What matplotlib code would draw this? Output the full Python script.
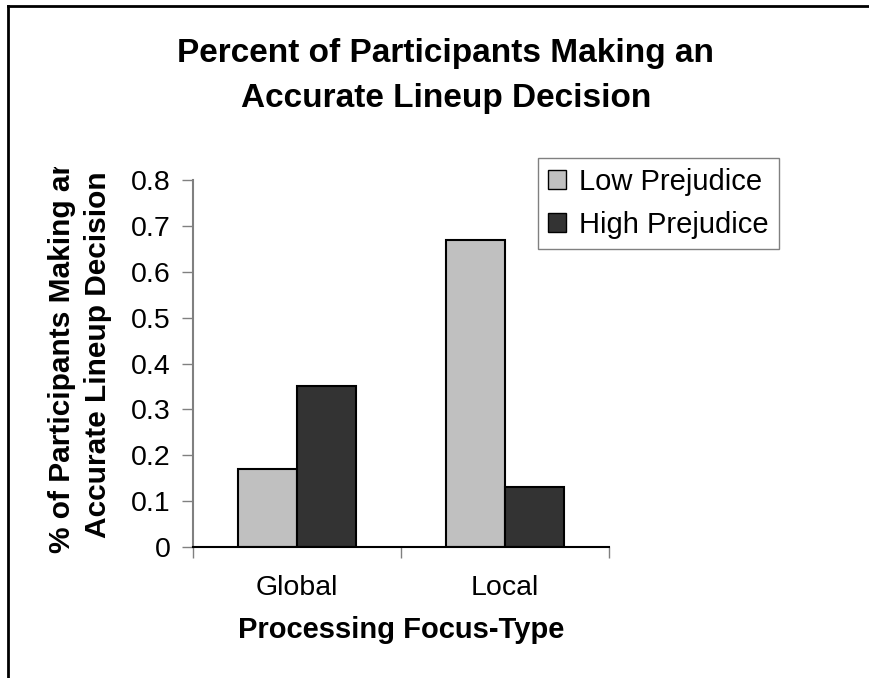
import numpy as np
import matplotlib.pyplot as plt
from matplotlib.lines import Line2D
from matplotlib.patches import Rectangle

plt.rcParams['font.family'] = ['Liberation Sans', 'DejaVu Sans']

categories = ['Global', 'Local']
low_prejudice = [0.17, 0.67]
high_prejudice = [0.35, 0.13]
series_names = ['Low Prejudice', 'High Prejudice']

fig = plt.figure(figsize=(8.69, 6.78), dpi=100)
ax = fig.add_axes([0.2221, 0.1932, 0.4787, 0.5413])

x = np.arange(len(categories)) + 0.5
w = 0.284
ax.bar(x - w/2, low_prejudice, w, color='#c0c0c0', edgecolor='black', linewidth=1.5, label=series_names[0])
ax.bar(x + w/2, high_prejudice, w, color='#333333', edgecolor='black', linewidth=1.5, label=series_names[1])

ax.set_xlim(0, 2)
ax.set_ylim(0, 0.8)
ax.set_yticks(np.arange(0, 0.81, 0.1))
ax.set_yticklabels(['0', '0.1', '0.2', '0.3', '0.4', '0.5', '0.6', '0.7', '0.8'])
ax.set_xticks([0, 1, 2])
ax.set_xticklabels([])
ax.set_xticks(x, minor=True)
ax.set_xticklabels(categories, minor=True)
ax.tick_params(axis='x', which='major', direction='out', length=8, width=1, color='#808080')
ax.tick_params(axis='x', which='minor', length=0, pad=20, labelsize=20.5)
ax.tick_params(axis='y', direction='out', length=8, width=1, color='#808080', labelsize=20.5, pad=8)

for s in ['top', 'right']:
    ax.spines[s].set_visible(False)
ax.spines['left'].set_color('#808080')
ax.spines['left'].set_linewidth(1.5)
ax.spines['bottom'].set_color('black')
ax.spines['bottom'].set_linewidth(1.5)

ax.set_xlabel('Processing Focus-Type', fontsize=21, fontweight='bold', labelpad=11)

fig.text(0.513, 0.888, 'Percent of Participants Making an\nAccurate Lineup Decision',
         ha='center', va='center', fontsize=24, fontweight='bold', linespacing=1.6)

ylab = fig.text(0.092, 0.477, '% of Participants Making an\nAccurate Lineup Decision',
                ha='center', va='center', rotation=90, fontsize=21.5, fontweight='bold',
                linespacing=1.35)
clip = Rectangle((0, 0), 1, 1 - 167/678, transform=fig.transFigure)
ylab.set_clip_path(clip)

leg = fig.legend(loc='upper left', bbox_to_anchor=(0.619, 0.767), fontsize=21,
                 frameon=True, fancybox=False, edgecolor='#808080', framealpha=1,
                 handlelength=0.62, handleheight=0.62, handletextpad=0.45,
                 borderpad=0.35, labelspacing=0.5, borderaxespad=0)
leg.get_frame().set_linewidth(1)
for h in leg.legend_handles:
    h.set_linewidth(1)

fig.add_artist(Line2D([8/869, 8/869], [0, 1 - 6/678], transform=fig.transFigure, color='black', linewidth=2))
fig.add_artist(Line2D([8/869, 1], [1 - 6/678, 1 - 6/678], transform=fig.transFigure, color='black', linewidth=2))

plt.savefig('out.png', dpi=100)
